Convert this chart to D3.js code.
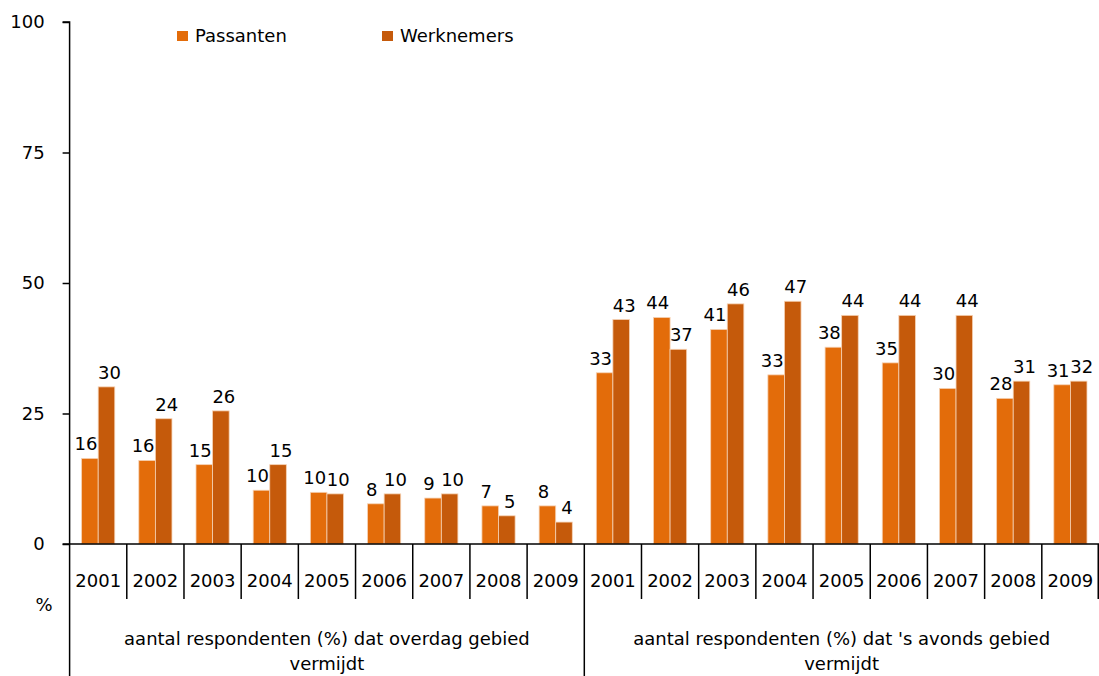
<!DOCTYPE html>
<html><head><meta charset="utf-8">
<script src="https://cdn.jsdelivr.net/npm/d3@7"></script>
<style>body{margin:0;background:#fff}svg{display:block}text{font-family:"DejaVu Sans",Verdana,sans-serif;fill:#000}</style>
</head><body>
<script>
const years = ["2001","2002","2003","2004","2005","2006","2007","2008","2009"];
const groups = ["aantal respondenten (%) dat overdag gebied|vermijdt", "aantal respondenten (%) dat 's avonds gebied|vermijdt"];
const seriesNames = ["Passanten","Werknemers"];
const passantenValues = [16.4,16.0,15.2,10.3,9.9,7.7,8.8,7.3,7.3, 32.8,43.4,41.1,32.4,37.7,34.7,29.8,27.9,30.5];
const werknemersValues = [30.1,24.0,25.5,15.2,9.6,9.6,9.6,5.4,4.2, 43.0,37.3,46.0,46.5,43.8,43.8,43.8,31.2,31.2];
const passantenLabels = [16,16,15,10,10,8,9,7,8, 33,44,41,33,38,35,30,28,31];
const werknemersLabels = [30,24,26,15,10,10,10,5,4, 43,37,46,47,44,44,44,31,32];
const yTicks = [0,25,50,75,100];
const colors = ["#E36C0A","#C55A0B"];

const W = 1099, H = 676;
const mLeft = 69.6, mRight = 1099, mTop = 22, mBottom = 544;
const labelShift = [-4, 3];
const svg = d3.select("body").append("svg").attr("width", W).attr("height", H);

const cats = [];
groups.forEach((g,gi)=>years.forEach(yr=>cats.push(gi+"-"+yr)));
const x = d3.scaleBand().domain(cats).range([mLeft, mRight]).padding(0);
const xs = d3.scaleBand().domain(seriesNames).range([0, x.bandwidth()]).paddingInner(0).paddingOuter(0.725);
const y = d3.scaleLinear().domain([0,100]).range([mBottom, mTop]);

// bars
const seriesData = [passantenValues, werknemersValues];
const labelData = [passantenLabels, werknemersLabels];
seriesNames.forEach((s, si) => {
  svg.append("g").selectAll("rect").data(seriesData[si]).join("rect")
    .attr("x", (d,i)=>x(cats[i]) + xs(s))
    .attr("y", d=>y(d))
    .attr("width", xs.bandwidth())
    .attr("height", d=>mBottom - y(d))
    .attr("fill", colors[si])
    .attr("stroke", "#f6d2b4").attr("stroke-width", 0.8);
});
seriesNames.forEach((s, si) => {
  svg.append("g").selectAll("text").data(seriesData[si]).join("text")
    .attr("x", (d,i)=>x(cats[i]) + xs(s) + xs.bandwidth()/2 + labelShift[si])
    .attr("y", d=>y(d) - 8)
    .attr("text-anchor","middle").attr("font-size", 18)
    .text((d,i)=>labelData[si][i]);
});

// y axis
const yAxis = d3.axisLeft(y).tickValues(yTicks).tickSize(7).tickPadding(18);
const ga = svg.append("g").attr("transform", `translate(${mLeft},0)`).call(yAxis);
ga.select(".domain").attr("stroke","#000").attr("stroke-width",1.5).attr("d", `M-7,${mTop}H0V${mBottom}`);
ga.selectAll(".tick line").attr("stroke","#000").attr("stroke-width",1.5);
ga.selectAll(".tick text").attr("font-size",18).style("font-family",'"DejaVu Sans",Verdana,sans-serif').attr("fill","#000");

// x axis line
svg.append("line").attr("x1", mLeft-7).attr("x2", mRight).attr("y1", mBottom).attr("y2", mBottom)
  .attr("stroke","#000").attr("stroke-width",1.5);

// year separators and labels
cats.forEach((c,i)=>{
  const x0 = x(c);
  const isGroupStart = i % years.length === 0;
  svg.append("line").attr("x1", x0).attr("x2", x0).attr("y1", mBottom).attr("y2", isGroupStart ? H : 599)
    .attr("stroke","#000").attr("stroke-width",1.5);
  svg.append("text").attr("x", x0 + x.bandwidth()/2).attr("y", 587)
    .attr("text-anchor","middle").attr("font-size",18).text(years[i % years.length]);
});
svg.append("line").attr("x1", mRight-0.75).attr("x2", mRight-0.75).attr("y1", mBottom).attr("y2", 599)
  .attr("stroke","#000").attr("stroke-width",1.5);

// group labels
groups.forEach((g,gi)=>{
  const x0 = x(gi+"-"+years[0]);
  const x1 = x(gi+"-"+years[years.length-1]) + x.bandwidth();
  const lines = g.split("|");
  lines.forEach((ln,li)=>{
    svg.append("text").attr("x",(x0+x1)/2).attr("y", 645 + li*25)
      .attr("text-anchor","middle").attr("font-size",18).text(ln);
  });
});

// % label
svg.append("text").attr("x", 44).attr("y", 611).attr("text-anchor","middle").attr("font-size",18).text("%");

// legend
const legX = [177, 382];
seriesNames.forEach((s,si)=>{
  svg.append("rect").attr("x", legX[si]).attr("y", 31).attr("width", 11).attr("height", 10).attr("fill", colors[si]);
  svg.append("text").attr("x", legX[si]+18).attr("y", 42).attr("font-size",18).text(s);
});
</script>
</body></html>
